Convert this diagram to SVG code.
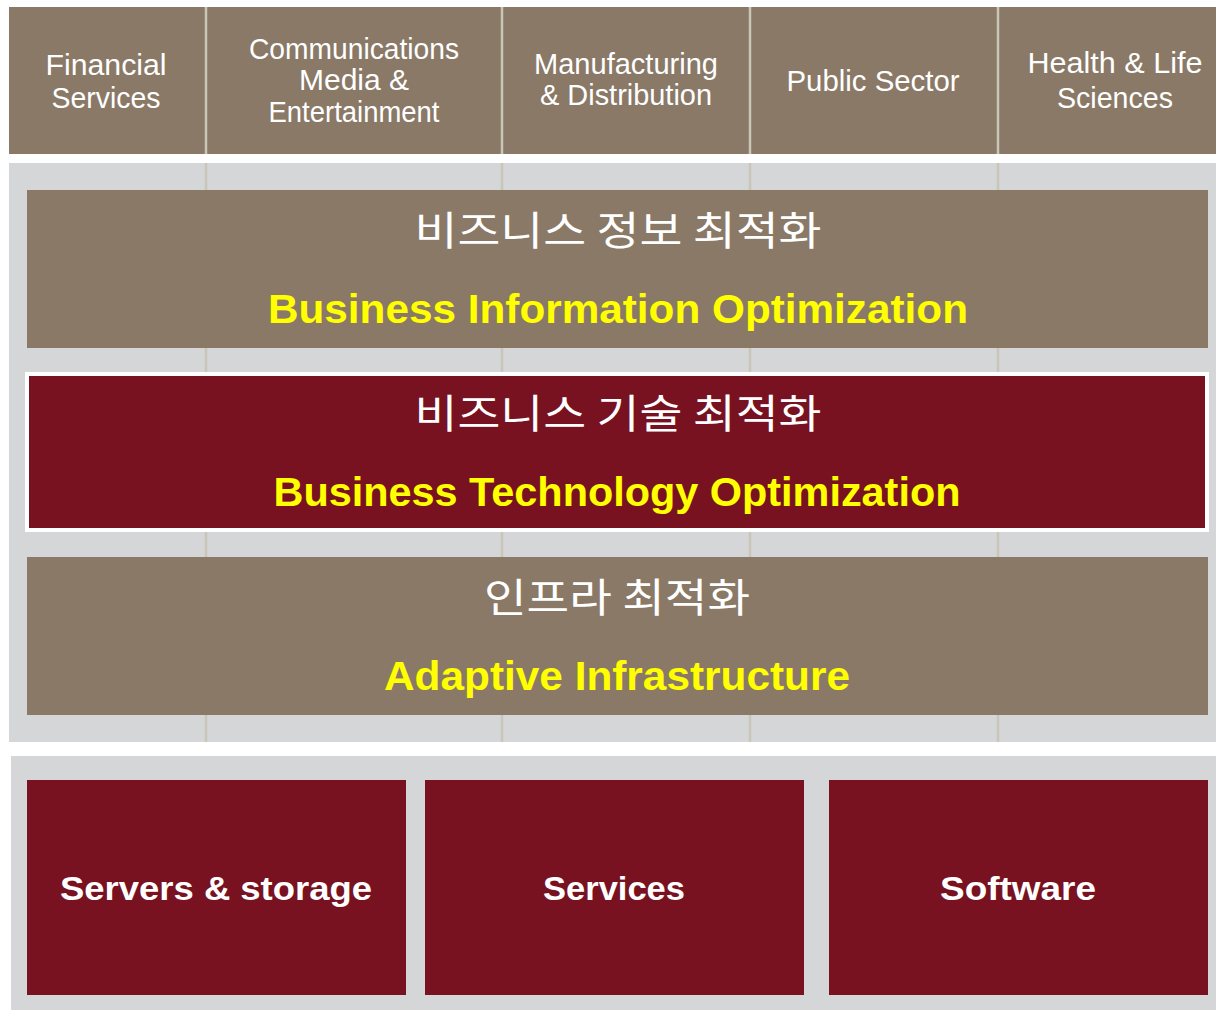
<svg xmlns="http://www.w3.org/2000/svg" width="1216" height="1010" viewBox="0 0 1216 1010">
<style>
.brown{fill:#8a7967}
.red{fill:#781220}
.gray{fill:#d5d6d8}
.div{stroke:#c9c6b7;stroke-width:2.5}
.ind{font-family:"Liberation Sans","DejaVu Sans",sans-serif;font-size:30px;fill:#ffffff;text-anchor:middle}
.ko{font-family:"Noto Sans CJK KR","Noto Sans",sans-serif;font-size:40px;fill:#ffffff;text-anchor:middle}
.en{font-family:"Liberation Sans","DejaVu Sans",sans-serif;font-weight:bold;font-size:40px;fill:#ffff00;text-anchor:middle}
.bt{font-family:"Liberation Sans","DejaVu Sans",sans-serif;font-weight:bold;font-size:34px;fill:#ffffff;text-anchor:middle}
</style>
<rect width="1216" height="1010" fill="#ffffff"/>
<g id="background">
<rect class="brown" x="9" y="7" width="1207" height="147"/>
<rect class="gray" x="9" y="163" width="1207" height="579"/>
<rect class="gray" x="11" y="756" width="1205" height="254"/>
</g>
<g id="connectors">
<line class="div" x1="206" y1="7" x2="206" y2="742"/>
<line class="div" x1="502" y1="7" x2="502" y2="742"/>
<line class="div" x1="750" y1="7" x2="750" y2="742"/>
<line class="div" x1="998" y1="7" x2="998" y2="742"/>
<line stroke="#ffffff" stroke-width="9" x1="0" y1="158.5" x2="1216" y2="158.5"/>
</g>
<g id="ind-financial">
<text class="ind" x="106" y="75" textLength="121" lengthAdjust="spacingAndGlyphs">Financial</text>
<text class="ind" x="106" y="108" textLength="109" lengthAdjust="spacingAndGlyphs">Services</text>
</g>
<g id="ind-communications">
<text class="ind" x="354" y="59" font-size="28" textLength="210" lengthAdjust="spacingAndGlyphs">Communications</text>
<text class="ind" x="354" y="90" font-size="28">Media &amp;</text>
<text class="ind" x="354" y="122" font-size="28" textLength="171" lengthAdjust="spacingAndGlyphs">Entertainment</text>
</g>
<g id="ind-manufacturing">
<text class="ind" x="626" y="74" font-size="28" textLength="184" lengthAdjust="spacingAndGlyphs">Manufacturing</text>
<text class="ind" x="626" y="105" font-size="28" textLength="172" lengthAdjust="spacingAndGlyphs">&amp; Distribution</text>
</g>
<g id="ind-public">
<text class="ind" x="873" y="91" textLength="173" lengthAdjust="spacingAndGlyphs">Public Sector</text>
</g>
<g id="ind-health">
<text class="ind" x="1115" y="73" textLength="175" lengthAdjust="spacingAndGlyphs">Health &amp; Life</text>
<text class="ind" x="1115" y="108" textLength="116" lengthAdjust="spacingAndGlyphs">Sciences</text>
</g>
<g id="layer-bio">
<rect class="brown" x="27" y="190" width="1181" height="158"/>
<text class="ko" x="618" y="245" textLength="407" lengthAdjust="spacingAndGlyphs">비즈니스 정보 최적화</text>
<text class="en" x="618" y="323" textLength="700" lengthAdjust="spacingAndGlyphs">Business Information Optimization</text>
</g>
<g id="layer-bto">
<rect class="red" x="27" y="374" width="1180" height="156" stroke="#ffffff" stroke-width="4"/>
<text class="ko" x="618" y="428" textLength="407" lengthAdjust="spacingAndGlyphs">비즈니스 기술 최적화</text>
<text class="en" x="617" y="506" textLength="687" lengthAdjust="spacingAndGlyphs">Business Technology Optimization</text>
</g>
<g id="layer-ai">
<rect class="brown" x="27" y="557" width="1181" height="158"/>
<text class="ko" x="617" y="612" textLength="266" lengthAdjust="spacingAndGlyphs">인프라 최적화</text>
<text class="en" x="617" y="690" textLength="466" lengthAdjust="spacingAndGlyphs">Adaptive Infrastructure</text>
</g>
<g id="box-servers">
<rect class="red" x="27" y="780" width="379" height="215"/>
<text class="bt" x="216" y="900" textLength="312" lengthAdjust="spacingAndGlyphs">Servers &amp; storage</text>
</g>
<g id="box-services">
<rect class="red" x="425" y="780" width="379" height="215"/>
<text class="bt" x="614" y="900" textLength="142" lengthAdjust="spacingAndGlyphs">Services</text>
</g>
<g id="box-software">
<rect class="red" x="829" y="780" width="379" height="215"/>
<text class="bt" x="1018" y="900" textLength="156" lengthAdjust="spacingAndGlyphs">Software</text>
</g>
</svg>
